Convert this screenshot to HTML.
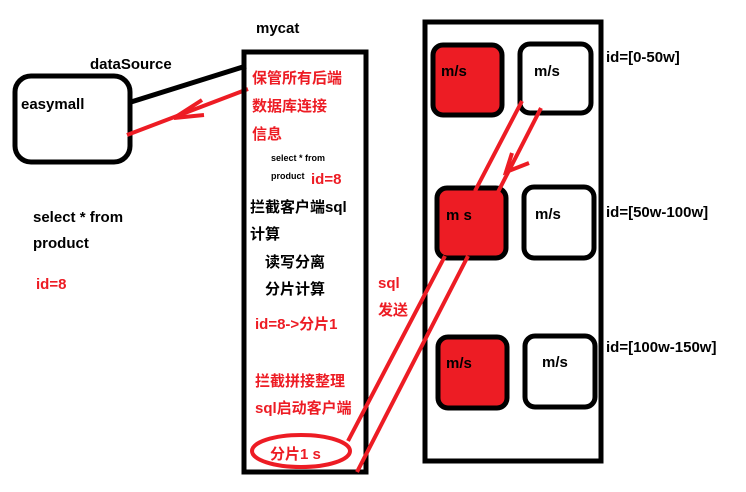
<!DOCTYPE html>
<html><head><meta charset="utf-8"><style>
html,body{margin:0;padding:0;background:#fff;}
svg{display:block;}
text{font-family:"Liberation Sans","Noto Sans CJK SC",sans-serif;font-weight:bold;}
</style></head><body>
<svg width="746" height="492" viewBox="0 0 746 492" xmlns="http://www.w3.org/2000/svg">
<rect width="746" height="492" fill="#fff"/>
<!-- easymall -->
<rect x="15" y="76" width="115" height="86" rx="16" fill="#fff" stroke="#000" stroke-width="5"/>
<text x="21" y="109" font-size="15">easymall</text>
<text x="90" y="69" font-size="15">dataSource</text>
<line x1="131" y1="102" x2="246" y2="66" stroke="#000" stroke-width="5"/>
<!-- red arrow -->
<line x1="248" y1="89" x2="127" y2="135" stroke="#ed1c24" stroke-width="4"/>
<polyline points="202,100 174,118 204,115" fill="none" stroke="#ed1c24" stroke-width="4"/>
<text x="33" y="222" font-size="15">select * from</text>
<text x="33" y="248" font-size="15">product</text>
<text x="36" y="289" font-size="15" fill="#ed1c24">id=8</text>
<!-- mycat -->
<text x="256" y="33" font-size="15">mycat</text>
<rect x="244" y="52" width="122" height="420" fill="none" stroke="#000" stroke-width="5"/>
<g font-size="15" fill="#ed1c24">
<text x="252" y="83">保管所有后端</text>
<text x="252" y="111">数据库连接</text>
<text x="252" y="139">信息</text>
</g>
<text x="271" y="161" font-size="9" font-weight="normal" fill="#000">select * from</text>
<text x="271" y="179" font-size="9" font-weight="normal" fill="#000">product</text>
<text x="311" y="184" font-size="15" fill="#ed1c24">id=8</text>
<text x="250" y="212" font-size="15">拦截客户端sql</text>
<text x="250" y="239" font-size="15">计算</text>
<text x="265" y="267" font-size="15">读写分离</text>
<text x="265" y="294" font-size="15">分片计算</text>
<text x="255" y="329" font-size="15" fill="#ed1c24">id=8-&gt;分片1</text>
<text x="255" y="386" font-size="15" fill="#ed1c24">拦截拼接整理</text>
<text x="255" y="413" font-size="15" fill="#ed1c24">sql启动客户端</text>
<ellipse cx="301" cy="451" rx="49" ry="16" fill="none" stroke="#ed1c24" stroke-width="4"/>
<text x="270" y="459" font-size="15" fill="#ed1c24">分片1 s</text>
<text x="378" y="288" font-size="15" fill="#ed1c24">sql</text>
<text x="378" y="315" font-size="15" fill="#ed1c24">发送</text>
<!-- right container -->
<rect x="425" y="22" width="176" height="439" fill="none" stroke="#000" stroke-width="5"/>
<rect x="433" y="45" width="69" height="70" rx="10" fill="#ed1c24" stroke="#000" stroke-width="5"/>
<rect x="520" y="44" width="71" height="69" rx="10" fill="#fff" stroke="#000" stroke-width="5"/>
<rect x="437" y="188" width="69" height="70" rx="10" fill="#ed1c24" stroke="#000" stroke-width="5"/>
<rect x="524" y="187" width="70" height="71" rx="10" fill="#fff" stroke="#000" stroke-width="5"/>
<rect x="438" y="337" width="69" height="71" rx="10" fill="#ed1c24" stroke="#000" stroke-width="5"/>
<rect x="525" y="336" width="70" height="71" rx="10" fill="#fff" stroke="#000" stroke-width="5"/>
<g font-size="15">
<text x="441" y="76">m/s</text>
<text x="534" y="76">m/s</text>
<text x="446" y="220">m  s</text>
<text x="535" y="219">m/s</text>
<text x="446" y="368">m/s</text>
<text x="542" y="367">m/s</text>
<text x="606" y="62">id=[0-50w]</text>
<text x="606" y="217">id=[50w-100w]</text>
<text x="606" y="352">id=[100w-150w]</text>
</g>
<!-- red lines -->
<g stroke="#ed1c24" stroke-width="4" fill="none">
<line x1="522" y1="101" x2="475" y2="191"/>
<line x1="541" y1="108" x2="498" y2="192"/>
<polyline points="512,153 506,172 529,163"/>
<line x1="445" y1="256" x2="348" y2="441"/>
<line x1="468" y1="256" x2="357" y2="472"/>
</g>
</svg>
</body></html>
